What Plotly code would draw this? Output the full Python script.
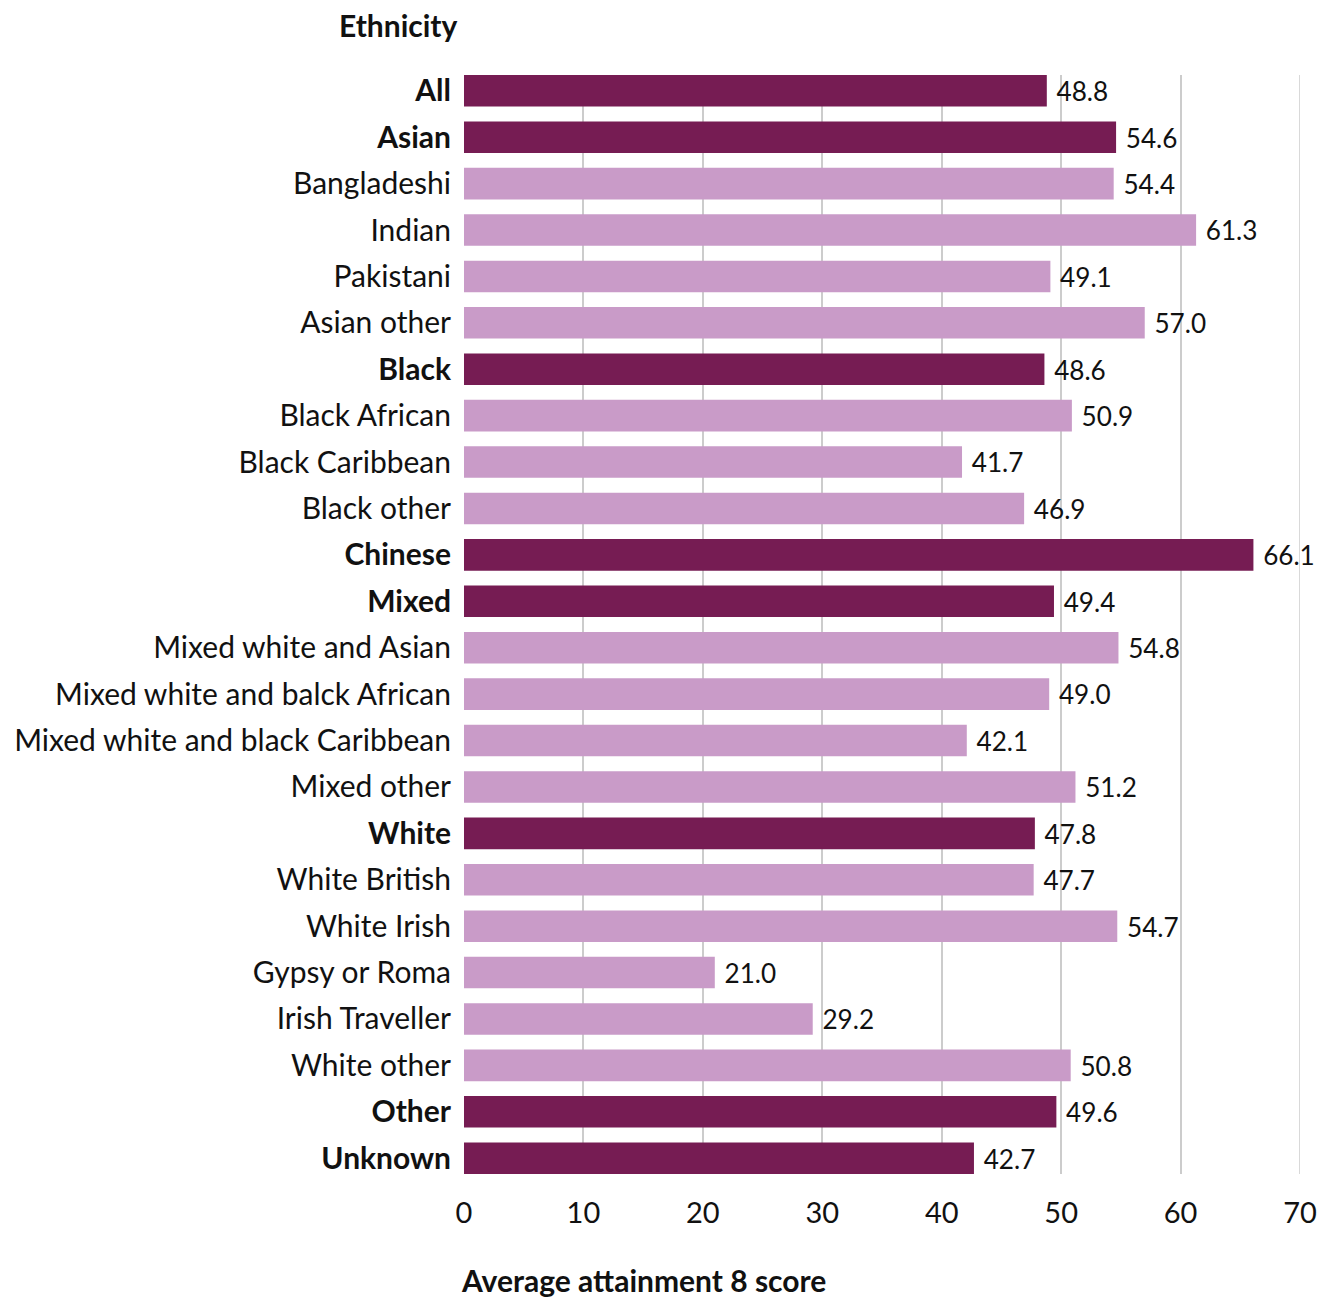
import plotly.graph_objects as go

categories = ["All", "Asian", "Bangladeshi", "Indian", "Pakistani", "Asian other",
              "Black", "Black African", "Black Caribbean", "Black other", "Chinese",
              "Mixed", "Mixed white and Asian", "Mixed white and balck African",
              "Mixed white and black Caribbean", "Mixed other", "White", "White British",
              "White Irish", "Gypsy or Roma", "Irish Traveller", "White other", "Other", "Unknown"]
values = [48.8, 54.6, 54.4, 61.3, 49.1, 57.0, 48.6, 50.9, 41.7, 46.9, 66.1, 49.4,
          54.8, 49.0, 42.1, 51.2, 47.8, 47.7, 54.7, 21.0, 29.2, 50.8, 49.6, 42.7]
headline = ["All", "Asian", "Black", "Chinese", "Mixed", "White", "Other", "Unknown"]

DARK = "#761C53"
LIGHT = "#C99BC8"
FONT = "Lato"

colors = [DARK if c in headline else LIGHT for c in categories]
ticktext = [f"<b>{c}</b>" if c in headline else c for c in categories]

fig = go.Figure(go.Bar(
    y=categories, x=values, orientation="h",
    marker=dict(color=colors, line=dict(width=0)),
    text=[f" {v:.1f}" for v in values], textposition="outside",
    textfont=dict(family=FONT, size=29, color="#111111"),
    cliponaxis=False,
))

n = len(categories)
fig.update_layout(
    width=1333, height=1297,
    margin=dict(l=464, r=33, t=75, b=123),
    plot_bgcolor="white", paper_bgcolor="white",
    bargap=0.32,
    showlegend=False,
    font=dict(family=FONT, size=29, color="#111111"),
    xaxis=dict(range=[0, 70], dtick=10, showgrid=True, gridcolor="#CCCCCC", gridwidth=1.5,
               zeroline=False, showline=False, ticks="outside", ticklen=13,
               tickcolor="rgba(0,0,0,0)", tickfont=dict(family=FONT, size=29)),
    yaxis=dict(categoryorder="array", categoryarray=categories,
               tickmode="array", tickvals=categories, ticktext=ticktext,
               range=[n - 1 + 0.34, -0.34], showgrid=False, zeroline=False,
               ticks="outside", ticklen=6, tickcolor="rgba(0,0,0,0)",
               tickfont=dict(family=FONT, size=30)),
    shapes=[dict(type="line", xref="x", yref="paper", x0=70, x1=70, y0=0, y1=1,
                 line=dict(color="#CCCCCC", width=1.5), layer="below")],
    annotations=[
        dict(text="<b>Ethnicity</b>", xref="paper", yref="paper", x=0, y=1,
             xshift=-4, yshift=50, xanchor="right", yanchor="middle", showarrow=False,
             font=dict(family=FONT, size=30, color="#111111")),
        dict(text="<b>Average attainment 8 score</b>", xref="paper", yref="paper", x=0, y=0,
             xshift=-5, yshift=-106, xanchor="left", yanchor="middle", showarrow=False,
             font=dict(family=FONT, size=30, color="#111111")),
    ],
)

fig.write_html("out.html")
